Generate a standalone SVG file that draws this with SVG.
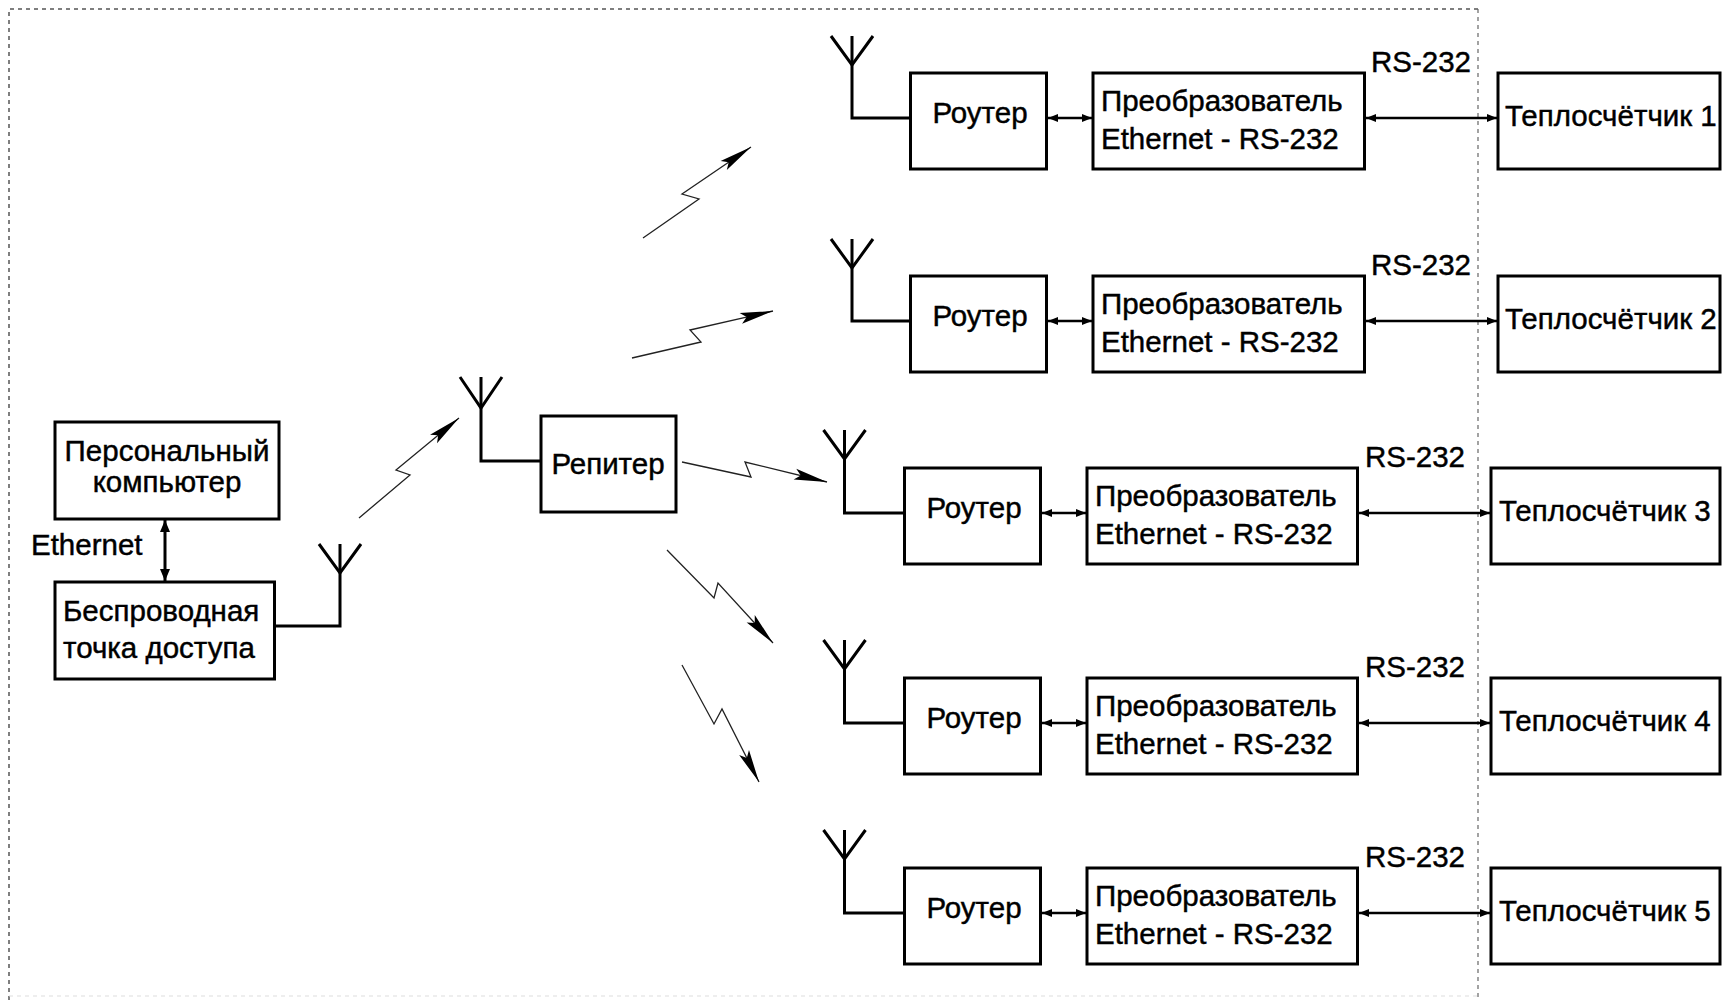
<svg xmlns="http://www.w3.org/2000/svg" width="1725" height="1000" viewBox="0 0 1725 1000">
<defs>
<style>
.box{fill:#fff;stroke:#000;stroke-width:3}
.t{font-family:"Liberation Sans",Arial,sans-serif;font-size:29.5px;fill:#000;stroke:#000;stroke-width:0.45}
.m{text-anchor:middle}
.ant{fill:none;stroke:#000;stroke-width:3;stroke-linejoin:miter}
.feed{fill:none;stroke:#000;stroke-width:3}
.dbl{fill:none;stroke:#000;stroke-width:2.6;marker-start:url(#sa);marker-end:url(#sa)}
.dblb{fill:none;stroke:#000;stroke-width:3;marker-start:url(#sb);marker-end:url(#sb)}
.bolt{fill:none;stroke:#222;stroke-width:1.3;marker-end:url(#ba)}
.border{fill:none;stroke:#555;stroke-width:1.5;stroke-dasharray:4 4}
</style>
<marker id="sa" markerUnits="userSpaceOnUse" viewBox="-11 -5 11 10" refX="0" refY="0" markerWidth="11" markerHeight="10" orient="auto-start-reverse">
<path d="M0,0 L-10,-4 L-10,4 Z" fill="#000"/>
</marker>
<marker id="sb" markerUnits="userSpaceOnUse" viewBox="-13 -6 13 12" refX="0" refY="0" markerWidth="13" markerHeight="12" orient="auto-start-reverse">
<path d="M0,0 L-12,-5 L-12,5 Z" fill="#000"/>
</marker>
<marker id="ba" markerUnits="userSpaceOnUse" viewBox="-34 -7 36 14" refX="0" refY="0" markerWidth="36" markerHeight="14" orient="auto">
<path d="M0,0 L-33,-5.5 L-27,0 L-33,5.5 Z" fill="#000"/>
</marker>
</defs>
<rect width="1725" height="1000" fill="#fff"/>

<g id="border">
<path class="border" d="M1478,9 L9,9 L9,1000"/>
<path class="border" d="M1478,9 L1478,1000" style="stroke-width:1.2;stroke:#666"/>
<path class="border" d="M9,996 L1478,996" style="stroke:#ddd;stroke-width:1.2"/>
</g>

<g id="connectors">
<!-- Ethernet -->
<line class="dblb" x1="165" y1="520" x2="165" y2="581"/>
<!-- feeds -->
<polyline class="feed" points="275,626 340,626 340,544"/>
<polyline class="feed" points="541,461 481,461 481,377"/>
<polyline class="feed" points="910.5,118 852,118 852,36"/>
<polyline class="feed" points="910.5,321 852,321 852,239"/>
<polyline class="feed" points="904.5,513 844.5,513 844.5,430"/>
<polyline class="feed" points="904.5,723 844.5,723 844.5,640"/>
<polyline class="feed" points="904.5,913 844.5,913 844.5,830"/>
<!-- router-converter -->
<line class="dbl" x1="1048" y1="118" x2="1092" y2="118"/>
<line class="dbl" x1="1048" y1="321" x2="1092" y2="321"/>
<line class="dbl" x1="1042" y1="513" x2="1086" y2="513"/>
<line class="dbl" x1="1042" y1="723" x2="1086" y2="723"/>
<line class="dbl" x1="1042" y1="913" x2="1086" y2="913"/>
<!-- converter-meter -->
<line class="dbl" x1="1366" y1="118" x2="1497" y2="118"/>
<line class="dbl" x1="1366" y1="321" x2="1497" y2="321"/>
<line class="dbl" x1="1359" y1="513" x2="1490" y2="513"/>
<line class="dbl" x1="1359" y1="723" x2="1490" y2="723"/>
<line class="dbl" x1="1359" y1="913" x2="1490" y2="913"/>
<!-- radio links -->
<polyline class="bolt" points="359,518 410,475 396,470 459,418"/>
<polyline class="bolt" points="643,238 699,199 682,194 751,147"/>
<polyline class="bolt" points="632,358 701,342 690,330 773,311"/>
<polyline class="bolt" points="682,462 751,477 745,462 827,482"/>
<polyline class="bolt" points="667,550 714,598 718,583 773,643"/>
<polyline class="bolt" points="682,665 714,724 722,709 759,782"/>
</g>

<g id="antennas">
<path class="ant" d="M319,544 L340,573 L361,544"/>
<path class="ant" d="M460,377 L481,408 L502,377"/>
<path class="ant" d="M831,36 L852,65 L873,36"/>
<path class="ant" d="M831,239 L852,268 L873,239"/>
<path class="ant" d="M823.5,430 L844.5,459 L865.5,430"/>
<path class="ant" d="M823.5,640 L844.5,669 L865.5,640"/>
<path class="ant" d="M823.5,830 L844.5,859 L865.5,830"/>
</g>

<g id="pc">
<rect class="box" x="55" y="422" width="224" height="97"/>
<text class="t m" x="167" y="461">Персональный</text>
<text class="t m" x="167" y="492">компьютер</text>
</g>
<g id="eth-label">
<text class="t" x="31" y="555">Ethernet</text>
</g>
<g id="ap">
<rect class="box" x="55" y="582" width="219.5" height="97"/>
<text class="t" x="63" y="621">Беспроводная</text>
<text class="t" x="63" y="658">точка доступа</text>
</g>
<g id="repeater">
<rect class="box" x="541" y="416" width="135" height="96"/>
<text class="t m" x="608" y="474">Репитер</text>
</g>

<!-- Row 1 -->
<g id="router1"><rect class="box" x="910.5" y="73" width="136" height="96"/><text class="t m" x="980" y="123">Роутер</text></g>
<g id="conv1"><rect class="box" x="1093" y="73" width="271.5" height="96"/><text class="t" x="1101" y="111">Преобразователь</text><text class="t" x="1101" y="149">Ethernet - RS-232</text></g>
<g id="rs1"><text class="t" x="1371" y="72">RS-232</text></g>
<g id="meter1"><rect class="box" x="1498" y="73" width="222" height="96"/><text class="t" x="1505" y="126">Теплосчётчик 1</text></g>

<!-- Row 2 -->
<g id="router2"><rect class="box" x="910.5" y="276" width="136" height="96"/><text class="t m" x="980" y="326">Роутер</text></g>
<g id="conv2"><rect class="box" x="1093" y="276" width="271.5" height="96"/><text class="t" x="1101" y="314">Преобразователь</text><text class="t" x="1101" y="352">Ethernet - RS-232</text></g>
<g id="rs2"><text class="t" x="1371" y="275">RS-232</text></g>
<g id="meter2"><rect class="box" x="1498" y="276" width="222" height="96"/><text class="t" x="1505" y="329">Теплосчётчик 2</text></g>

<!-- Row 3 -->
<g id="router3"><rect class="box" x="904.5" y="468" width="136" height="96"/><text class="t m" x="974" y="518">Роутер</text></g>
<g id="conv3"><rect class="box" x="1087" y="468" width="270.5" height="96"/><text class="t" x="1095" y="506">Преобразователь</text><text class="t" x="1095" y="544">Ethernet - RS-232</text></g>
<g id="rs3"><text class="t" x="1365" y="467">RS-232</text></g>
<g id="meter3"><rect class="box" x="1491" y="468" width="229" height="96"/><text class="t" x="1499" y="521">Теплосчётчик 3</text></g>

<!-- Row 4 -->
<g id="router4"><rect class="box" x="904.5" y="678" width="136" height="96"/><text class="t m" x="974" y="728">Роутер</text></g>
<g id="conv4"><rect class="box" x="1087" y="678" width="270.5" height="96"/><text class="t" x="1095" y="716">Преобразователь</text><text class="t" x="1095" y="754">Ethernet - RS-232</text></g>
<g id="rs4"><text class="t" x="1365" y="677">RS-232</text></g>
<g id="meter4"><rect class="box" x="1491" y="678" width="229" height="96"/><text class="t" x="1499" y="731">Теплосчётчик 4</text></g>

<!-- Row 5 -->
<g id="router5"><rect class="box" x="904.5" y="868" width="136" height="96"/><text class="t m" x="974" y="918">Роутер</text></g>
<g id="conv5"><rect class="box" x="1087" y="868" width="270.5" height="96"/><text class="t" x="1095" y="906">Преобразователь</text><text class="t" x="1095" y="944">Ethernet - RS-232</text></g>
<g id="rs5"><text class="t" x="1365" y="867">RS-232</text></g>
<g id="meter5"><rect class="box" x="1491" y="868" width="229" height="96"/><text class="t" x="1499" y="921">Теплосчётчик 5</text></g>
</svg>
